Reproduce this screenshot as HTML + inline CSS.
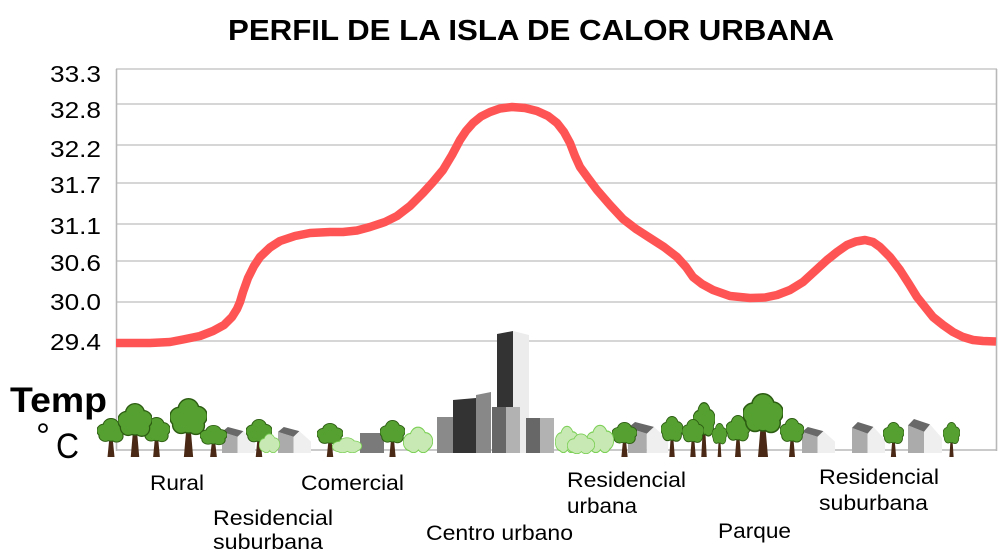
<!DOCTYPE html>
<html><head><meta charset="utf-8"><style>
html,body{margin:0;padding:0;background:#fff;}
svg{display:block;}
text{font-family:"Liberation Sans",Arial,sans-serif;fill:#000;}
</style></head><body>
<svg width="1000" height="556" viewBox="0 0 1000 556" xmlns="http://www.w3.org/2000/svg">
<defs>
<symbol id="tree" viewBox="0 0 40 62" preserveAspectRatio="none">
  <polygon points="18,28 22,28 25,62 15,62" fill="#4a2a16"/>
  <g fill="#55a030" stroke="#2c5c12" stroke-width="3">
    <circle cx="20" cy="12" r="10.5"/><circle cx="10" cy="20" r="9.5"/><circle cx="30" cy="19" r="9.5"/>
    <circle cx="12" cy="28" r="8.5"/><circle cx="28" cy="29" r="8.5"/><circle cx="20" cy="25" r="11"/>
  </g>
  <g fill="#55a030">
    <circle cx="20" cy="12" r="10.5"/><circle cx="10" cy="20" r="9.5"/><circle cx="30" cy="19" r="9.5"/>
    <circle cx="12" cy="28" r="8.5"/><circle cx="28" cy="29" r="8.5"/><circle cx="20" cy="25" r="11"/>
  </g>
</symbol>
<symbol id="bush" viewBox="0 0 40 30" preserveAspectRatio="none">
  <g fill="#c8e9b3" stroke="#7acf55" stroke-width="2.5">
    <circle cx="10" cy="18" r="9"/><circle cx="20" cy="12" r="10"/><circle cx="30" cy="17" r="9"/>
    <circle cx="14" cy="21" r="8"/><circle cx="27" cy="21" r="8"/>
  </g>
  <g fill="#c8e9b3">
    <circle cx="10" cy="18" r="9"/><circle cx="20" cy="12" r="10"/><circle cx="30" cy="17" r="9"/>
    <circle cx="14" cy="21" r="8"/><circle cx="27" cy="21" r="8"/>
  </g>
</symbol>
<symbol id="house" viewBox="0 0 34 32" preserveAspectRatio="none">
  <polygon points="0,6 16,12 16,32 0,32" fill="#ababab"/>
  <polygon points="16,12 22,5 34,18 34,32 16,32" fill="#efefef"/>
  <polygon points="0,6 6,0 22,5 16,12" fill="#686868"/>
</symbol>
</defs>

<!-- title -->
<text x="228" y="40" font-size="29" font-weight="bold" textLength="606" lengthAdjust="spacingAndGlyphs">PERFIL DE LA ISLA DE CALOR URBANA</text>

<!-- gridlines -->
<g stroke="#c9c9c9" stroke-width="1.6">
  <line x1="116" y1="69" x2="997" y2="69"/>
  <line x1="116" y1="104" x2="997" y2="104"/>
  <line x1="116" y1="145" x2="997" y2="145"/>
  <line x1="116" y1="183" x2="997" y2="183"/>
  <line x1="116" y1="224" x2="997" y2="224"/>
  <line x1="116" y1="261" x2="997" y2="261"/>
  <line x1="116" y1="302" x2="997" y2="302"/>
  <line x1="116" y1="341" x2="997" y2="341"/>
</g>
<g stroke="#b8b8b8" stroke-width="1.6">
  <line x1="116.5" y1="69" x2="116.5" y2="451"/>
  <line x1="996.5" y1="69" x2="996.5" y2="451"/>
  <line x1="116" y1="450" x2="997" y2="450"/>
</g>

<!-- y labels -->
<g font-size="23">
  <text x="50" y="82" textLength="51" lengthAdjust="spacingAndGlyphs">33.3</text>
  <text x="50" y="118" textLength="51" lengthAdjust="spacingAndGlyphs">32.8</text>
  <text x="50" y="157" textLength="51" lengthAdjust="spacingAndGlyphs">32.2</text>
  <text x="50" y="193" textLength="51" lengthAdjust="spacingAndGlyphs">31.7</text>
  <text x="50" y="234" textLength="51" lengthAdjust="spacingAndGlyphs">31.1</text>
  <text x="50" y="271" textLength="51" lengthAdjust="spacingAndGlyphs">30.6</text>
  <text x="50" y="310" textLength="51" lengthAdjust="spacingAndGlyphs">30.0</text>
  <text x="50" y="350" textLength="51" lengthAdjust="spacingAndGlyphs">29.4</text>
</g>

<text x="10" y="412" font-size="35" font-weight="bold" textLength="97" lengthAdjust="spacingAndGlyphs">Temp</text>
<text x="36" y="448" font-size="35">°</text>
<text x="56" y="458" font-size="35" textLength="23" lengthAdjust="spacingAndGlyphs">C</text>

<!-- curve -->
<polyline fill="none" stroke="#ff5454" stroke-width="8.5" stroke-linejoin="round" stroke-linecap="butt"
points="116,343 150,343 170,342 183,339.5 200,336 213,331 224,325 232,317 237,309 240,302 243,292 248,278 254,266 260,257 270,247.5 280,241 295,236 310,233 330,232 343,232 357,230.5 370,227 385,222 397,216 410,206 423,193 433,182 443,170 452,155 460,140 466,131 473,123 481,116.5 490,112 500,108.5 512,107 525,108 537,111 548,116 557,123 564,132 570,143 575,156 580,167 588,178 597,190 610,205 623,219 636,229 650,238 664,247 677,257 686,267 693,277 702,284 713,290 730,296 750,298 765,297.5 777,295 790,290 803,282 815,271 827,260 837,252 847,245 856,241.5 865,240 873,242 880,247 890,257 900,270 909,284 917,297 925,307 933,317 943,325 953,332 963,337 973,340 983,341 996,341.5"/>

<!-- buildings -->
<rect x="360" y="433" width="24" height="20" fill="#7a7a7a"/>
<rect x="437" y="417" width="17" height="36" fill="#8a8a8a"/>
<polygon points="453,400 476,398 476,453 453,453" fill="#333"/>
<polygon points="476,395 491,392 491,453 476,453" fill="#888"/>
<polygon points="497,334 513,331 513,453 497,453" fill="#333"/>
<polygon points="513,331 529,335 529,453 513,453" fill="#ececec"/>
<rect x="492" y="407" width="14" height="46" fill="#676767"/>
<rect x="506" y="407" width="14" height="46" fill="#b2b2b2"/>
<rect x="526" y="418" width="14" height="35" fill="#676767"/>
<rect x="540" y="418" width="14" height="35" fill="#b2b2b2"/>

<!-- houses -->
<use href="#house" x="222" y="427" width="33" height="26"/>
<use href="#house" x="278" y="427" width="33" height="26"/>
<use href="#house" x="628" y="422" width="40" height="31"/>
<use href="#house" x="802" y="427" width="33" height="26"/>
<use href="#house" x="852" y="422" width="33" height="31"/>
<use href="#house" x="908" y="419" width="34" height="34"/>

<!-- trees -->
<use href="#tree" x="97" y="418" width="28" height="39"/>
<use href="#tree" x="143" y="417" width="27" height="40"/>
<use href="#tree" x="118" y="403" width="34" height="54"/>
<use href="#tree" x="170" y="398" width="37" height="59"/>
<use href="#tree" x="200" y="425" width="27" height="32"/>
<use href="#tree" x="246" y="419" width="26" height="38"/>
<use href="#tree" x="317" y="423" width="26" height="34"/>
<use href="#tree" x="380" y="420" width="25" height="37"/>
<use href="#tree" x="612" y="422" width="25" height="35"/>
<use href="#tree" x="693" y="402" width="22" height="55"/>
<use href="#tree" x="661" y="416" width="22" height="41"/>
<use href="#tree" x="682" y="419" width="22" height="38"/>
<use href="#tree" x="712" y="423" width="15" height="34"/>
<use href="#tree" x="726" y="415" width="24" height="42"/>
<use href="#tree" x="743" y="393" width="40" height="64"/>
<use href="#tree" x="780" y="418" width="24" height="39"/>
<use href="#tree" x="883" y="422" width="21" height="35"/>
<use href="#tree" x="943" y="422" width="17" height="35"/>

<!-- bushes -->
<use href="#bush" x="259" y="433" width="21" height="20"/>
<use href="#bush" x="332" y="437" width="30" height="16"/>
<use href="#bush" x="403" y="426" width="30" height="27"/>
<use href="#bush" x="555" y="425" width="24" height="28"/>
<use href="#bush" x="586" y="424" width="28" height="29"/>
<use href="#bush" x="567" y="433" width="28" height="21"/>

<!-- category labels -->
<g font-size="21">
  <text x="150" y="490" textLength="54" lengthAdjust="spacingAndGlyphs">Rural</text>
  <text x="301" y="490" textLength="103" lengthAdjust="spacingAndGlyphs">Comercial</text>
  <text x="213" y="525" textLength="120" lengthAdjust="spacingAndGlyphs">Residencial</text>
  <text x="213" y="549" textLength="110" lengthAdjust="spacingAndGlyphs">suburbana</text>
  <text x="426" y="540" textLength="147" lengthAdjust="spacingAndGlyphs">Centro urbano</text>
  <text x="567" y="487" textLength="119" lengthAdjust="spacingAndGlyphs">Residencial</text>
  <text x="567" y="513" textLength="70" lengthAdjust="spacingAndGlyphs">urbana</text>
  <text x="718" y="538" textLength="73" lengthAdjust="spacingAndGlyphs">Parque</text>
  <text x="819" y="484" textLength="120" lengthAdjust="spacingAndGlyphs">Residencial</text>
  <text x="819" y="510" textLength="109" lengthAdjust="spacingAndGlyphs">suburbana</text>
</g>
</svg>
</body></html>
